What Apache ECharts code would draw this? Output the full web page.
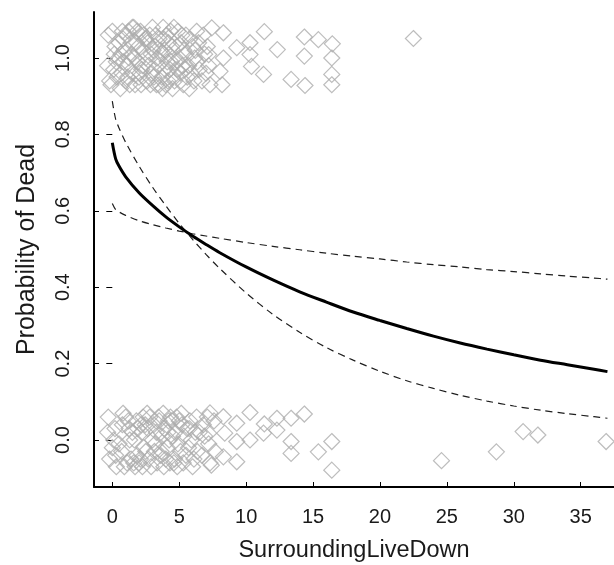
<!DOCTYPE html>
<html>
<head>
<meta charset="utf-8">
<script src="https://cdn.jsdelivr.net/npm/echarts@6/dist/echarts.min.js"></script>
<style>
  html, body { margin: 0; padding: 0; background: #fff; }
  #chart { width: 614px; height: 565px; }
</style>
</head>
<body>
<div id="chart"></div>
<script>
// Observed outcomes, jittered: Dead (near 1) and Live (near 0)
const deadX = [
  -0.3, 0.2, 0.1, -0.2, 0.3, 0.0, -0.1, 0.35, 0.15, -0.35,
  0.8, 1.2, 1.1, 0.7, 1.3, 0.9, 1.0, 1.25, 0.75, 1.4, 0.85, 1.15, 1.05, 0.65,
  1.8, 2.2, 2.1, 1.7, 2.3, 1.9, 2.0, 2.35, 1.65, 2.15, 1.85, 2.25, 1.95, 2.05,
  2.8, 3.2, 3.1, 2.7, 3.3, 2.9, 3.0, 3.35, 2.65, 3.15, 2.85, 3.25, 2.95, 3.05,
  3.8, 4.2, 4.1, 3.7, 4.3, 3.9, 4.0, 4.35, 3.65, 4.15, 3.85, 4.25, 3.95, 4.05, 3.75, 4.4,
  4.8, 5.2, 5.1, 4.7, 5.3, 4.9, 5.0, 5.35, 4.65, 5.15, 4.85, 5.25,
  5.8, 6.2, 6.1, 5.7, 6.3, 5.9, 6.0, 6.35, 5.75, 6.15,
  6.8, 7.2, 7.1, 6.7, 7.3, 6.9, 7.0, 7.43, 7.2,
  0.5, 1.5, 2.5, 3.5, 4.5, 5.5, 6.5, 0.6, 1.6, 2.6, 3.6, 4.6, 5.6,
  1.45, 2.45, 3.45, 4.45, 5.45, 0.45, 6.45, 3.5, 4.5, 2.5, 1.5, 5.5,
  8.3, 8.3, 8.2, 8.05, 9.3, 10.29, 10.29, 10.4, 11.36, 11.3, 12.33,
  13.36, 14.35, 14.35, 14.4, 15.4, 16.44, 16.4, 16.4, 16.4, 22.5
];
const deadY = [
  1.06, 1.03, 0.97, 0.94, 0.99, 1.07, 0.93, 0.95, 1.01, 0.98,
  1.05, 1.07, 0.98, 0.96, 0.93, 1.02, 0.94, 1.00, 1.07, 1.04, 0.99, 0.95, 1.06, 1.01,
  1.04, 0.97, 1.07, 0.93, 1.02, 0.99, 0.95, 1.06, 1.00, 0.93, 1.07, 0.98, 1.03, 0.96,
  1.06, 1.03, 0.95, 0.98, 0.93, 1.01, 1.08, 1.00, 1.04, 0.97, 0.93, 1.06, 0.96, 1.02,
  1.08, 1.04, 0.99, 0.95, 0.97, 1.02, 0.93, 1.07, 1.01, 0.94, 1.05, 1.01, 0.97, 1.06, 0.92, 0.99,
  1.03, 1.06, 0.96, 0.99, 0.93, 1.07, 1.00, 1.02, 0.94, 1.04, 0.97, 0.98,
  1.05, 1.02, 0.94, 0.98, 1.07, 0.96, 1.03, 0.99, 0.92, 1.00,
  1.06, 0.98, 1.03, 0.94, 0.93, 1.01, 0.96, 1.079, 1.009,
  1.04, 0.96, 1.00, 1.05, 0.95, 1.01, 0.97, 0.92, 1.08, 0.94, 1.02, 1.08, 0.95,
  1.01, 1.05, 0.98, 1.03, 0.97, 1.00, 1.04, 0.93, 0.92, 1.05, 1.08, 1.06,
  1.066, 1.000, 0.930, 0.965, 1.027, 1.040, 1.009, 0.978, 1.069, 0.957, 1.022,
  0.944, 1.055, 1.005, 0.928, 1.048, 1.037, 1.000, 0.957, 0.930, 1.051
];
const liveX = [
  -0.3, 0.2, 0.0, -0.2, 0.3, 0.1, -0.35, 0.25,
  0.8, 1.2, 1.1, 0.7, 1.3, 0.9, 1.25, 0.75, 1.4, 1.0,
  1.8, 2.2, 2.1, 1.7, 2.3, 1.9, 2.0, 2.35, 1.65, 2.15, 1.85, 2.25,
  2.8, 3.2, 3.1, 2.7, 3.3, 2.9, 3.0, 3.35, 2.65, 3.15,
  3.8, 4.2, 4.1, 3.7, 4.3, 3.9, 4.0, 4.35, 3.65, 4.15, 3.85, 4.25,
  4.8, 5.2, 5.1, 4.7, 5.3, 4.9, 5.0, 5.35, 4.65, 5.15, 4.85,
  5.8, 6.2, 6.1, 5.7, 6.3, 5.9, 6.0, 6.35, 5.75,
  6.8, 7.2, 7.1, 6.7, 7.3, 6.9, 7.2, 7.3, 7.4,
  0.5, 1.5, 2.5, 3.5, 4.5, 5.5, 6.5, 1.6, 2.6, 3.6, 4.6, 5.6,
  2.45, 3.45, 4.45, 7.6, 7.7,
  8.3, 8.4, 8.3, 9.3, 9.3, 9.3, 10.29, 10.29, 11.36, 11.3, 12.3, 12.3,
  13.36, 13.36, 13.36, 14.35, 15.4, 16.4, 16.4,
  24.6, 28.7, 30.7, 31.8, 36.9
];
const liveY = [
  0.06, 0.03, -0.02, -0.05, -0.07, 0.00, 0.02, -0.04,
  0.07, 0.05, -0.06, -0.03, 0.00, -0.07, 0.03, 0.04, -0.05, 0.06,
  0.05, 0.02, -0.05, -0.07, 0.06, 0.03, -0.06, -0.02, 0.00, 0.04, -0.04, -0.07,
  0.06, -0.01, 0.04, -0.05, 0.02, -0.07, 0.00, -0.06, 0.03, -0.03,
  0.07, 0.05, -0.02, 0.01, -0.06, 0.03, -0.05, 0.06, -0.03, 0.02, -0.07, 0.00,
  0.06, 0.04, -0.03, 0.02, -0.06, -0.01, 0.05, 0.01, -0.05, 0.07, -0.07,
  0.05, 0.02, -0.05, -0.02, 0.06, 0.00, -0.07, -0.03, 0.03,
  0.04, -0.01, 0.06, -0.04, -0.06, 0.01, 0.018, 0.071, -0.066,
  -0.01, 0.02, -0.03, 0.05, 0.01, -0.04, 0.02, -0.06, 0.07, -0.04, -0.06, 0.03,
  0.04, 0.06, 0.05, 0.05, -0.03,
  0.061, 0.018, -0.044, 0.044, -0.004, -0.057, 0.072, 0.000, 0.042, 0.018, 0.057, 0.026,
  0.057, -0.004, -0.035, 0.068, -0.031, -0.004, -0.079,
  -0.054, -0.031, 0.022, 0.013, -0.004
];

// Fitted probability and its two bounding curves
const curveX = [0, 0.25, 0.5, 1, 2, 3, 4, 5, 6, 7, 8, 10, 12, 14, 16, 18, 20, 22, 24, 26, 28, 30, 32, 34, 36, 37];
const fitP = [0.778, 0.736, 0.717, 0.689, 0.647, 0.614, 0.584, 0.558, 0.534, 0.512, 0.491, 0.453, 0.419, 0.388, 0.361, 0.335, 0.313, 0.292, 0.272, 0.254, 0.238, 0.223, 0.209, 0.197, 0.185, 0.179];
const boundSteep = [0.887, 0.840, 0.817, 0.779, 0.717, 0.662, 0.613, 0.567, 0.525, 0.486, 0.450, 0.385, 0.329, 0.282, 0.242, 0.209, 0.180, 0.155, 0.135, 0.117, 0.102, 0.089, 0.078, 0.069, 0.061, 0.057];
const boundFlat = [0.619, 0.603, 0.597, 0.588, 0.574, 0.564, 0.555, 0.547, 0.540, 0.534, 0.528, 0.517, 0.507, 0.498, 0.489, 0.481, 0.474, 0.466, 0.459, 0.453, 0.446, 0.441, 0.435, 0.429, 0.424, 0.421];

// Tick positions
const xTicks = [0, 5, 10, 15, 20, 25, 30, 35];
const yTicks = [0.0, 0.2, 0.4, 0.6, 0.8, 1.0];

const pairs = (xs, ys) => xs.map((x, i) => [x, ys[i]]);

const font = 'Liberation Sans, Arial, sans-serif';
const ink = '#1a1a1a';

const chart = echarts.init(document.getElementById('chart'), null, { renderer: 'canvas' });

const yCommon = {
  type: 'value',
  min: -0.123,
  max: 1.1204,
  position: 'left',
  splitLine: { show: false }
};

const diamondStyle = { color: 'rgba(0,0,0,0)', borderColor: '#adadad', borderWidth: 1.2 };
const dashStyle = { color: '#1e1e1e', width: 1.2, type: [7, 5] };

chart.setOption({
  animation: false,
  backgroundColor: '#ffffff',
  // fixed plot box; labels are allowed to sit outside it
  grid: { left: 94, right: 0, top: 12, bottom: 78, containLabel: false, outerBoundsMode: 'none' },
  xAxis: {
    type: 'value',
    min: -1.368,
    max: 37.49,
    name: 'SurroundingLiveDown',
    nameLocation: 'middle',
    nameGap: 52,
    nameTextStyle: { fontFamily: font, fontSize: 23.5, color: ink },
    axisLine: { show: true, onZero: false, lineStyle: { color: '#000', width: 2 } },
    axisTick: { show: true, inside: true, length: 5, customValues: xTicks, lineStyle: { color: '#000', width: 1 } },
    axisLabel: {
      customValues: xTicks,
      fontFamily: font, fontSize: 20, color: ink, margin: 20,
      formatter: v => String(v)
    },
    splitLine: { show: false }
  },
  yAxis: [
    Object.assign({}, yCommon, {
      name: 'Probability of Dead',
      nameLocation: 'middle',
      nameGap: 54,
      nameRotate: 90,
      nameTextStyle: { fontFamily: font, fontSize: 25, color: ink },
      axisLine: { show: true, onZero: false, lineStyle: { color: '#000', width: 2 } },
      axisTick: { show: true, inside: true, length: 5, customValues: yTicks, lineStyle: { color: '#000', width: 1 } },
      axisLabel: {
        customValues: yTicks,
        rotate: 90,
        fontFamily: font, fontSize: 20, color: ink, margin: 21,
        formatter: v => v.toFixed(1)
      }
    }),
    Object.assign({}, yCommon, {
      offset: 0,
      axisLine: { show: false },
      axisTick: { show: true, inside: false, length: 6, customValues: yTicks, lineStyle: { color: '#000', width: 1 } },
      axisLabel: { show: false }
    })
  ],
  series: [
    {
      name: 'Dead', type: 'scatter', yAxisIndex: 0,
      data: pairs(deadX, deadY),
      symbol: 'diamond', symbolSize: 16,
      itemStyle: diamondStyle,
      emphasis: { disabled: true }, z: 1
    },
    {
      name: 'Live', type: 'scatter', yAxisIndex: 0,
      data: pairs(liveX, liveY),
      symbol: 'diamond', symbolSize: 16,
      itemStyle: diamondStyle,
      emphasis: { disabled: true }, z: 1
    },
    {
      name: 'Bound steep', type: 'line', yAxisIndex: 0,
      data: pairs(curveX, boundSteep), smooth: 0.3, showSymbol: false,
      lineStyle: dashStyle, z: 3
    },
    {
      name: 'Bound flat', type: 'line', yAxisIndex: 0,
      data: pairs(curveX, boundFlat), smooth: 0.3, showSymbol: false,
      lineStyle: dashStyle, z: 3
    },
    {
      name: 'Fit', type: 'line', yAxisIndex: 0,
      data: pairs(curveX, fitP), smooth: 0.3, showSymbol: false,
      lineStyle: { color: '#000', width: 3 }, z: 4
    }
  ]
});
</script>
</body>
</html>
